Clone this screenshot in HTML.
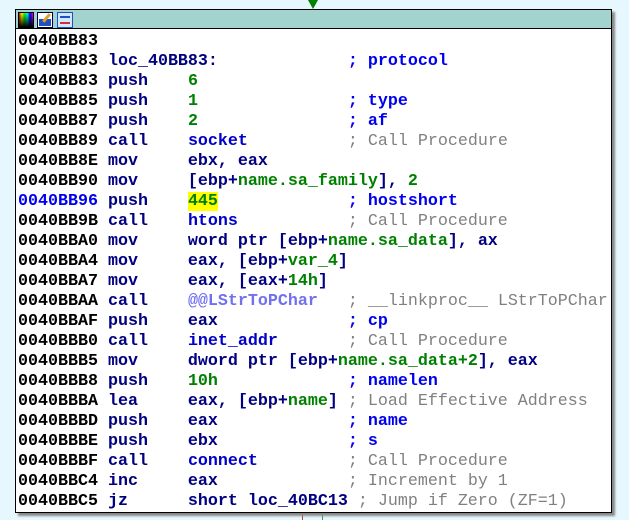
<!DOCTYPE html>
<html><head><style>
body{margin:0;width:629px;height:520px;background:#e6f7fd;position:relative;overflow:hidden}
#box{position:absolute;left:15px;top:9px;width:595px;height:502px;border:1px solid #000;background:#fff;box-shadow:3px 3px 2px #888}
#hdr{position:absolute;left:0;top:0;width:595px;height:18px;background:#a3d3cf;border-bottom:1px solid #000}
pre{position:absolute;left:2px;top:22px;margin:0;font-family:"Liberation Mono",monospace;font-size:16.67px;line-height:20px;font-weight:bold;color:#000}
.m{color:#000080}.g{color:#008000}.c{color:#808080;font-weight:normal}.b{color:#0000f0}.f{color:#0000c8}.p{color:#7070f0}
.ic{position:absolute;top:2px;width:14px;height:14px}
</style></head><body>
<div style="position:absolute;left:308px;top:0;width:0;height:0;border-left:5px solid transparent;border-right:5px solid transparent;border-top:9px solid #008000"></div>
<div style="position:absolute;left:302px;top:512px;width:1px;height:8px;background:#c04040"></div>
<div style="position:absolute;left:322px;top:512px;width:1px;height:8px;background:#40a040"></div>
<div id="box"><div id="hdr">
<div class="ic" style="left:2px;background:linear-gradient(to bottom,transparent,#000),linear-gradient(to right,red,yellow,lime,cyan,blue,magenta);border:1px solid #000"></div>
<div class="ic" style="left:21px;background:#fff;border:1px solid #004;"><div style="position:absolute;left:1px;top:6px;width:12px;height:7px;background:#2050c0"></div><div style="position:absolute;left:7px;top:0;width:3px;height:10px;background:#e0a020;transform:rotate(40deg)"></div></div>
<div class="ic" style="left:41px;background:#d0e8ff;border:1px solid #2050c0"><div style="position:absolute;left:2px;top:3px;width:10px;height:2px;background:#2050c0"></div><div style="position:absolute;left:2px;top:9px;width:10px;height:2px;background:#d03030"></div></div>
</div>
<pre>0040BB83
0040BB83 <span class="m">loc_40BB83:</span>             <span class="b">; protocol</span>
0040BB83 <span class="m">push</span>    <span class="g">6</span>
0040BB85 <span class="m">push</span>    <span class="g">1</span>               <span class="b">; type</span>
0040BB87 <span class="m">push</span>    <span class="g">2</span>               <span class="b">; af</span>
0040BB89 <span class="m">call</span>    <span class="f">socket</span>          <span class="c">; Call Procedure</span>
0040BB8E <span class="m">mov     ebx, eax</span>
0040BB90 <span class="m">mov     [ebp+<span class="g">name.sa_family</span>], <span class="g">2</span></span>
<span class="b">0040BB96</span> <span class="m">push</span>    <span class="g" style="background:#ffff00">445</span>             <span class="b">; hostshort</span>
0040BB9B <span class="m">call</span>    <span class="f">htons</span>           <span class="c">; Call Procedure</span>
0040BBA0 <span class="m">mov     word ptr [ebp+<span class="g">name.sa_data</span>], ax</span>
0040BBA4 <span class="m">mov     eax, [ebp+<span class="g">var_4</span>]</span>
0040BBA7 <span class="m">mov     eax, [eax+<span class="g">14h</span>]</span>
0040BBAA <span class="m">call</span>    <span class="p">@@LStrToPChar</span>   <span class="c">; __linkproc__ LStrToPChar</span>
0040BBAF <span class="m">push    eax</span>             <span class="b">; cp</span>
0040BBB0 <span class="m">call</span>    <span class="f">inet_addr</span>       <span class="c">; Call Procedure</span>
0040BBB5 <span class="m">mov     dword ptr [ebp+<span class="g">name.sa_data+2</span>], eax</span>
0040BBB8 <span class="m">push</span>    <span class="g">10h</span>             <span class="b">; namelen</span>
0040BBBA <span class="m">lea     eax, [ebp+<span class="g">name</span>]</span> <span class="c">; Load Effective Address</span>
0040BBBD <span class="m">push    eax</span>             <span class="b">; name</span>
0040BBBE <span class="m">push    ebx</span>             <span class="b">; s</span>
0040BBBF <span class="m">call</span>    <span class="f">connect</span>         <span class="c">; Call Procedure</span>
0040BBC4 <span class="m">inc     eax</span>             <span class="c">; Increment by 1</span>
0040BBC5 <span class="m">jz      short loc_40BC13</span> <span class="c">; Jump if Zero (ZF=1)</span></pre>
</div>
</body></html>
